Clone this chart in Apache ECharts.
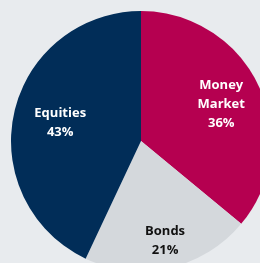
<!DOCTYPE html>
<html>
<head>
<meta charset="utf-8">
<script src="https://cdn.jsdelivr.net/npm/echarts@6/dist/echarts.min.js"></script>
<style>
  html, body { margin: 0; padding: 0; background: #e8ebee; }
  #chart { width: 260px; height: 263px; }
</style>
</head>
<body>
<div id="chart"></div>
<script>
// 资产配置
const categories = ['Money\nMarket', 'Bonds', 'Equities'];
const shares = [36, 21, 43];
const colors = ['#b50050', '#d4d8dc', '#012d58'];
const textColors = ['#ffffff', '#111111', '#ffffff'];

const chart = echarts.init(document.getElementById('chart'));

const pieData = categories.map((name, i) => ({
  name: name,
  value: shares[i],
  itemStyle: { color: colors[i] },
}));

// 标签微调位置
const labelOffsets = {
  'Money\nMarket': [-3, 2],
  Bonds: [4, 10],
  Equities: [9, 2],
};

// 标签单独一层，半径略大让文字往外移
const labelData = categories.map((name, i) => ({
  name: name,
  value: shares[i],
  label: {
    color: textColors[i],
    offset: labelOffsets[name],
  },
}));

chart.setOption({
  backgroundColor: '#e8ebee',
  animation: false,
  series: [
    {
      type: 'pie',
      center: [141, 141],
      radius: [0, 130],
      startAngle: 90,
      clockwise: true,
      silent: true,
      label: { show: false },
      labelLine: { show: false },
      itemStyle: { borderWidth: 0 },
      data: pieData,
    },
    {
      type: 'pie',
      center: [141, 141],
      radius: [48, 130],
      startAngle: 90,
      clockwise: true,
      silent: true,
      itemStyle: { color: 'transparent', borderWidth: 0 },
      labelLine: { show: false },
      label: {
        show: true,
        position: 'inside',
        fontFamily: 'Open Sans',
        fontWeight: 'bold',
        fontSize: 13,
        lineHeight: 19,
        align: 'center',
        formatter: (p) => p.name + '\n' + p.value + '%',
      },
      data: labelData,
    },
  ],
});
</script>
</body>
</html>
